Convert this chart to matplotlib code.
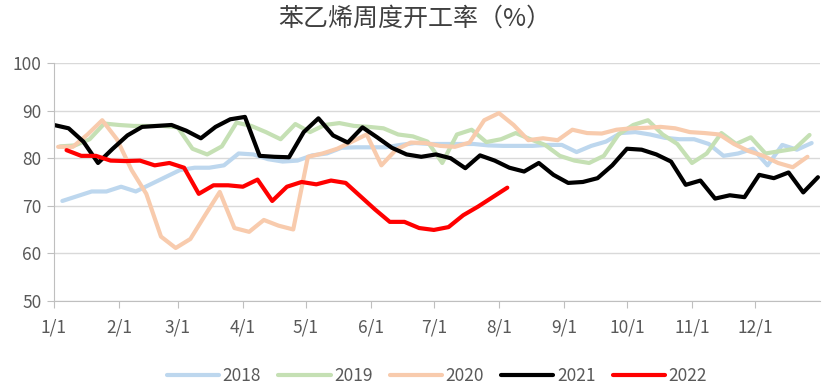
import matplotlib
matplotlib.use("Agg")
import matplotlib.pyplot as plt
import pandas as pd

plt.rcParams['font.family'] = ['Noto Sans CJK SC', 'DejaVu Sans']

# weekly (Friday) styrene operating rate, %
start_dates = {"2018": "2018-01-05", "2019": "2019-01-04", "2020": "2020-01-03",
               "2021": "2021-01-01", "2022": "2022-01-07"}

v2018 = [71, 72, 73, 73, 74, 73, 74.5, 76, 77.5, 78, 78, 78.5, 81, 80.8, 79.8, 79.3,
         79.5, 80.6, 81, 82.2, 82.3, 82.3, 82.3, 82.8, 83.2, 83, 83, 83, 83, 82.7,
         82.6, 82.6, 82.6, 82.8, 82.8, 81.3, 82.6, 83.5, 85.3, 85.5, 85, 84.3, 84, 84,
         83, 80.5, 81, 82, 78.5, 82.8, 81.8, 83.2]
v2019 = [82.5, 82.7, 84, 87.3, 87, 86.8, 86.8, 86.8, 86.5, 82, 80.8, 82.5, 87.5, 86.8,
         85.5, 84, 87.2, 85.5, 87, 87.4, 86.8, 86.6, 86.3, 85, 84.6, 83.5, 79, 85, 86,
         83.4, 84, 85.3, 84, 82.8, 80.5, 79.5, 79, 80.5, 85, 87, 88, 85, 83, 79, 81,
         85.3, 83, 84.4, 81, 81.5, 82, 84.9]
v2020 = [82.4, 82.4, 85, 88, 84, 77.5, 72.5, 63.5, 61.1, 63, 68, 72.9, 65.3, 64.5, 67,
         65.8, 65, 80.3, 81, 82, 83.5, 85, 78.5, 81.8, 83.3, 83.2, 82.6, 82.4, 83.3, 88,
         89.5, 87, 83.8, 84.2, 83.8, 86, 85.3, 85.2, 86, 86.3, 86.4, 86.6, 86.3, 85.5,
         85.3, 85, 83, 81.5, 80.5, 79, 78.1, 80.3]
v2021 = [87, 86.3, 83.5, 79, 82, 84.8, 86.6, 86.8, 87, 85.8, 84.2, 86.6, 88.2, 88.7,
         80.5, 80.3, 80.2, 85.5, 88.4, 84.8, 83.3, 86.5, 84.4, 82.2, 80.8, 80.3, 80.8,
         80, 77.9, 80.6, 79.5, 78, 77.2, 79, 76.5, 74.8, 75, 75.8, 78.5, 82, 81.8, 80.8,
         79.3, 74.4, 75.3, 71.5, 72.2, 71.8, 76.5, 75.8, 77, 72.8, 76]
v2022 = [81.7, 80.5, 80.5, 79.5, 79.4, 79.5, 78.5, 79, 78, 72.5, 74.3, 74.3, 74, 75.5,
         71, 74, 75, 74.5, 75.3, 74.8, 72, 69.2, 66.6, 66.6, 65.3, 64.9, 65.5, 68, 69.8,
         71.8, 73.8]

series = {"2018": v2018, "2019": v2019, "2020": v2020, "2021": v2021, "2022": v2022}
colors = {"2018": "#BDD7EE", "2019": "#C5E0B4", "2020": "#F8CBAD",
          "2021": "#000000", "2022": "#FF0000"}
month_labels = ["1/1", "2/1", "3/1", "4/1", "5/1", "6/1", "7/1", "8/1", "9/1",
                "10/1", "11/1", "12/1"]

fig = plt.figure(figsize=(8.3, 3.88), dpi=100)
ax = fig.add_axes([0.065, 0.225, 0.923, 0.612])

for year, vals in series.items():
    d = pd.date_range(start_dates[year], periods=len(vals), freq="7D")
    days = (d - pd.Timestamp(year + "-01-01")).days
    ax.plot(days, vals, color=colors[year], lw=3.0, label=year,
            solid_joinstyle="round", solid_capstyle="round")

month_pos = (pd.date_range("2021-01-01", periods=12, freq="MS") - pd.Timestamp("2021-01-01")).days
ax.set_xticks(month_pos)
ax.set_xticklabels(month_labels)
ax.set_xlim(0, 365)
ax.set_ylim(50, 100)
ax.set_yticks(range(50, 101, 10))

ax.grid(axis="y", color="#D9D9D9", lw=1)
ax.set_axisbelow(True)
for s in ["top", "right"]:
    ax.spines[s].set_visible(False)
ax.spines["left"].set_color("#BFBFBF")
ax.spines["bottom"].set_color("#BFBFBF")
ax.tick_params(axis="both", colors="#BFBFBF", labelcolor="#595959", labelsize=12.5,
               length=5)
ax.tick_params(axis="x", pad=8)
ax.tick_params(axis="y", pad=4)

fig.text(0.5, 0.952, "苯乙烯周度开工率（%）", ha="center", va="center",
         fontsize=18, color="#404040")

ax.legend(loc="upper center", bbox_to_anchor=(0.5, -0.215), ncol=5, frameon=False,
          fontsize=12.5, labelcolor="#595959", handlelength=3.0, columnspacing=1.0,
          handletextpad=0.2)

fig.savefig("out.png", dpi=100)
